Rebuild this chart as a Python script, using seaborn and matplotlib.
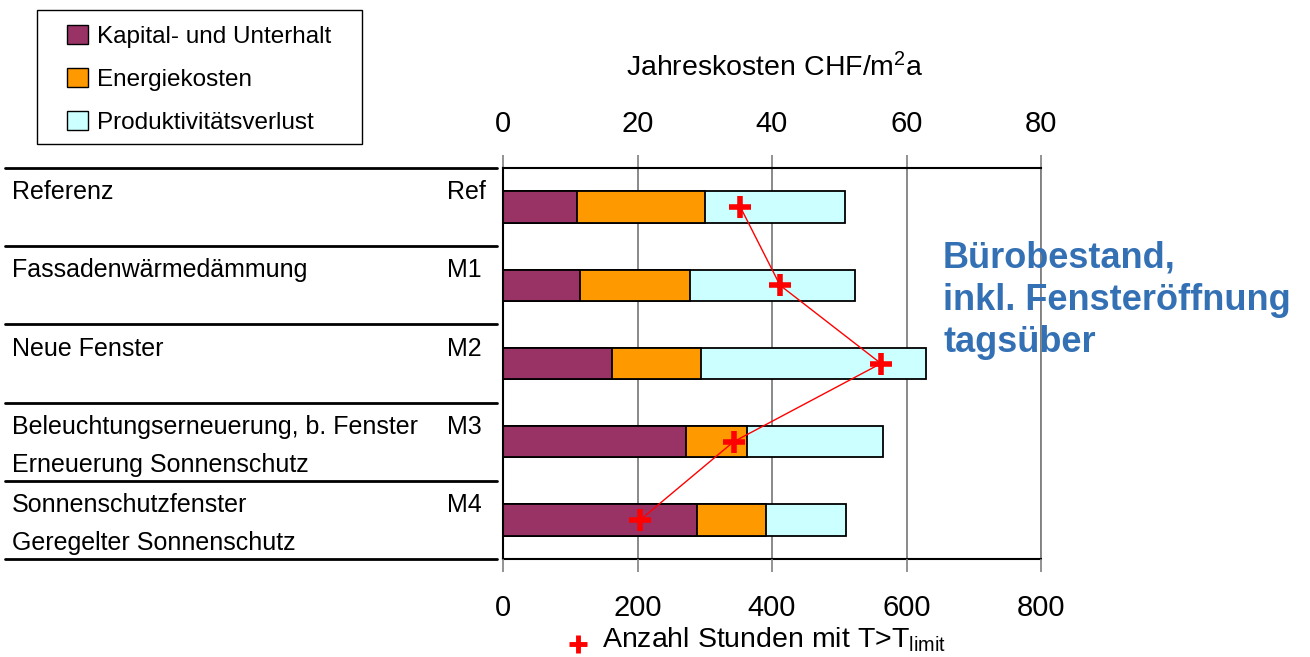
import numpy as np
import pandas as pd
import matplotlib
matplotlib.use("Agg")
import matplotlib.pyplot as plt
import seaborn as sns
from matplotlib.patches import Patch, Rectangle
from matplotlib.lines import Line2D
from matplotlib.transforms import blended_transform_factory
from matplotlib import font_manager

# data
codes = ["Ref", "M1", "M2", "M3", "M4"]
labels_1 = ["Referenz", "Fassadenwärmedämmung", "Neue Fenster",
            "Beleuchtungserneuerung, b. Fenster", "Sonnenschutzfenster"]
labels_2 = ["", "", "", "Erneuerung Sonnenschutz", "Geregelter Sonnenschutz"]
kapital = [11.0, 11.4, 16.2, 27.2, 28.8]
energie = [19.1, 16.4, 13.3, 9.1, 10.3]
produktiv = [20.7, 24.5, 33.4, 20.2, 11.9]
stunden = [353, 412, 562, 343, 204]

series_names = ["Kapital- und Unterhalt", "Energiekosten", "Produktivitätsverlust"]
colors = ["#993366", "#FF9900", "#CCFFFF"]

sns.set_style("white")
plt.rcParams["font.family"] = ["Liberation Sans", "DejaVu Sans"]
plt.rcParams["mathtext.fontset"] = "custom"
plt.rcParams["mathtext.rm"] = "Liberation Sans"
plt.rcParams["mathtext.it"] = "Liberation Sans:italic"
plt.rcParams["text.color"] = "black"
plt.rcParams["xtick.color"] = "black"
plt.rcParams["ytick.color"] = "black"

installed = {f.name for f in font_manager.fontManager.ttflist}
if "Liberation Sans Narrow" in installed:
    leg_font = {"family": "Liberation Sans Narrow", "size": 20}
else:
    leg_font = {"family": "Liberation Sans", "size": 17.5}

df = pd.DataFrame({"code": codes, "kap": kapital, "en": energie, "prod": produktiv})
df["c1"] = df["kap"]
df["c2"] = df["kap"] + df["en"]
df["c3"] = df["c2"] + df["prod"]

fig = plt.figure(figsize=(13.1, 6.57), dpi=100)
ax = fig.add_axes([503 / 1310, 98 / 657, 538 / 1310, 391 / 657])

# stacked bars: draw the totals first, then overlay the partial sums
for col, c in zip(["c3", "c2", "c1"], colors[::-1]):
    sns.barplot(data=df, x=col, y="code", orient="h", color=c, saturation=1,
                width=0.4, edgecolor="black", linewidth=1.3, ax=ax)

# second x axis for the hours
ax2 = ax.twiny()
sns.lineplot(x=stunden, y=np.arange(len(codes)), sort=False, estimator=None,
             color="red", linewidth=1, marker="+", markersize=16,
             markeredgewidth=4, markeredgecolor="red", ax=ax2)
ax2.set_xlim(0, 800)
ax2.xaxis.tick_bottom()
ax2.set_xticks([0, 200, 400, 600, 800])
ax2.tick_params(axis="x", direction="out", length=9.5, width=1.2, color="grey",
                labelcolor="black", labelsize=21, pad=16)
for s in ax2.spines.values():
    s.set_visible(False)

ax.set_xlim(0, 80)
ax.set_ylim(4.5, -0.5)
ax2.set_ylim(4.5, -0.5)
ax.set_xlabel("")
ax.set_ylabel("")
ax.xaxis.tick_top()
ax.set_xticks([0, 20, 40, 60, 80])
ax.tick_params(axis="x", direction="out", length=9.5, width=1.2, color="grey",
               labelcolor="black", labelsize=21, pad=12)
ax.set_yticks(np.arange(-0.5, 5, 1))
ax.set_yticklabels([])
ax.tick_params(axis="y", direction="out", length=4, width=1.2, color="grey")
ax.grid(axis="x", color="grey", linewidth=1.3)
ax.grid(axis="y", visible=False)
ax.set_axisbelow(True)
for s in ["top", "bottom", "left"]:
    ax.spines[s].set_color("black")
    ax.spines[s].set_linewidth(1.5)
ax.spines["right"].set_color("grey")
ax.spines["right"].set_linewidth(1.3)

# table on the left
trans = blended_transform_factory(fig.transFigure, ax.transData)
for i in range(len(codes)):
    ax.text(12 / 1310, i - 0.19, labels_1[i], transform=trans, fontsize=18,
            va="center", ha="left")
    if labels_2[i]:
        ax.text(12 / 1310, i + 0.3, labels_2[i], transform=trans, fontsize=18,
                va="center", ha="left")
    ax.text(447 / 1310, i - 0.19, codes[i], transform=trans, fontsize=18,
            va="center", ha="left")
for b in np.arange(-0.5, 5, 1):
    ax.plot([5 / 1310, 497 / 1310], [b, b], transform=trans, color="black",
            linewidth=2, clip_on=False)

fig.text(775 / 1310, 1 - 68 / 657, "Jahreskosten CHF/m$^2$a", fontsize=20.5,
         ha="center", va="center")
fig.add_artist(Line2D([578 / 1310], [1 - 644 / 657], marker="+", markersize=13,
                      markeredgewidth=3.5, color="red"))
fig.text(602 / 1310, 1 - 640 / 657, "Anzahl Stunden mit T>T$_{\\mathrm{limit}}$",
         fontsize=20.5, ha="left", va="center")

fig.text(943 / 1310, 1 - 300 / 657,
         "Bürobestand,\ninkl. Fensteröffnung\ntagsüber",
         color="#3470B4", fontsize=26, fontweight="bold", ha="left",
         va="center", linespacing=1.27)

# legend: box drawn by hand, entries placed inside
fig.add_artist(Rectangle((37 / 1310, 1 - 144 / 657), 325 / 1310, 134 / 657,
                         transform=fig.transFigure, facecolor="white",
                         edgecolor="black", linewidth=1))
handles = [Patch(facecolor=c, edgecolor="black", linewidth=1) for c in colors]
leg = fig.legend(handles, series_names, loc="upper left",
                 bbox_to_anchor=(62 / 1310, 1 - 20 / 657), frameon=False,
                 borderaxespad=0, handlelength=0.85, handleheight=0.85,
                 handletextpad=0.4, labelspacing=0.82, borderpad=0.2,
                 prop=leg_font)

fig.savefig("out.png", dpi=100)
